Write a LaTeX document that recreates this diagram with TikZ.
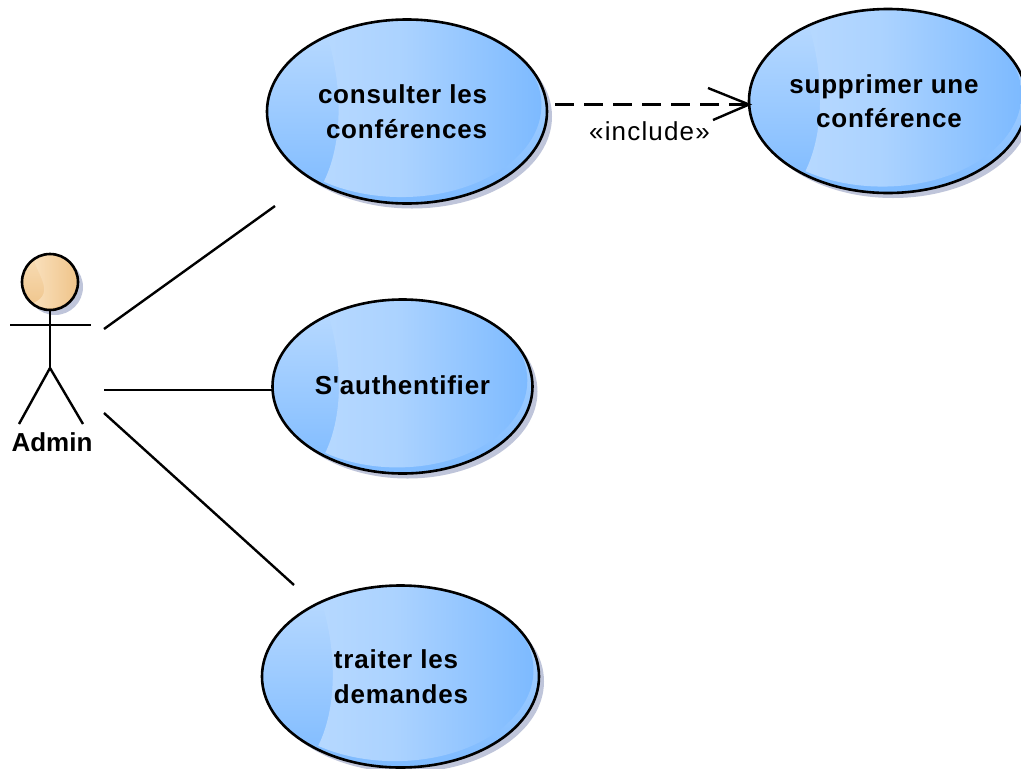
\documentclass[tikz,border=0pt]{standalone}
\usepackage{fontspec}
\setmainfont{Liberation Sans}[Ligatures=TeXOff]
\definecolor{shadowc}{HTML}{BFC5DA}
\definecolor{lightblue}{HTML}{BFDDFF}
\definecolor{midblue}{HTML}{7DBAFF}
\definecolor{topblue}{HTML}{BBDBFF}
\definecolor{headlight}{HTML}{FCE8CA}
\definecolor{headdark}{HTML}{EFC48A}
\definecolor{headtop}{HTML}{F8DDB6}
\tikzset{
  ucshape/.style={ellipse,draw=black,line width=2.6pt,inner sep=0pt},
  uctext/.style={font=\fontsize{26}{34.5}\selectfont\bfseries\addfontfeatures{LetterSpace=3},inner sep=0pt},
  wire/.style={line width=2.4pt,draw=black},
  figure/.style={line width=2.4pt,draw=black},
}
\usetikzlibrary{shapes.geometric}
% #1 name, #2 cx, #3 cy, #4 rx, #5 ry
\newcommand{\usecaseshape}[5]{
  \fill[shadowc] (#2+5,#3+5) ellipse [x radius=#4,y radius=#5];
  \begin{scope}
    \clip (#2,#3) ellipse [x radius=#4,y radius=#5];
    \shade[top color=topblue,bottom color=midblue] (#2,#3) ellipse [x radius=#4,y radius=#5];
    \begin{scope}[shift={(#2,#3)},xscale=#4,yscale=#5]
      \clip (-0.56,-1.1) -- (-0.56,-0.77) .. controls (-0.47,-0.3) and (-0.45,0.3) .. (-0.59,0.75)
        -- (-0.7,1.1) -- (1.1,1.1) -- (1.1,-1.1) -- cycle;
      \shade[left color=lightblue,right color=midblue,middle color=lightblue!70!midblue] (-0.04,-0.07) circle [radius=1];
    \end{scope}
  \end{scope}
  \node[ucshape,minimum width=#4*2pt,minimum height=#5*2pt] (#1) at (#2,#3) {};
}
\begin{document}
\begin{tikzpicture}[x=1pt,y=-1pt]
\useasboundingbox (0,0) rectangle (1021,769);

\usecaseshape{consulter}{407}{111.5}{140}{92}
\usecaseshape{supprimer}{888}{101}{139}{92}
\usecaseshape{auth}{402.5}{386.5}{130}{87}
\usecaseshape{traiter}{400.5}{676.5}{138.5}{91}

\node[uctext,align=right] (consulterT) at (402.5,111.5) {consulter les\\conférences};
\node[uctext,align=center] (supprimerT) at (884,101) {supprimer une\\\hspace*{10pt}conférence};
\node[uctext] (authT) at (402.5,385) {S'authentifier};
\node[uctext,align=left] (traiterT) at (401,676.5) {traiter les\\demandes};

% actor
\coordinate (headc) at (50,282);
\fill[shadowc] (55,287) circle [radius=28];
\begin{scope}
  \clip (headc) circle [radius=28];
  \shade[top color=headtop,bottom color=headdark] (headc) circle [radius=28];
  \begin{scope}[shift={(headc)},scale=28]
    \clip (-0.56,-1.1) -- (-0.56,-0.77) .. controls (-0.47,-0.3) and (0.2,0.4) .. (-0.59,0.75)
      -- (-0.7,1.1) -- (1.1,1.1) -- (1.1,-1.1) -- cycle;
    \shade[left color=headlight,right color=headdark] (-0.04,-0.07) circle [radius=1];
  \end{scope}
\end{scope}
\node[circle,draw=black,line width=2.6pt,minimum size=56pt,inner sep=0pt] (head) at (headc) {};
\coordinate (armL) at (10,325);
\coordinate (armR) at (91,325);
\coordinate (hip) at (50,368);
\coordinate (footL) at (19,424);
\coordinate (footR) at (83,424);
\draw[figure] (head.south) -- (hip);
\draw[figure] (armL) -- (armR);
\draw[figure] (footL) -- (hip) -- (footR);
\node[font=\fontsize{26}{30}\selectfont\bfseries,inner sep=0pt] (admin) at (52,442) {Admin};

% associations
\coordinate (a1) at (104,329);
\coordinate (b1) at (275,206);
\coordinate (a2) at (104,390);
\coordinate (b2) at (273,390);
\coordinate (a3) at (104,413);
\coordinate (b3) at (294,585);
\draw[wire] (a1) -- (b1);
\draw[wire] (a2) -- (b2);
\draw[wire] (a3) -- (b3);

% include
\coordinate (incS) at (555,104.5);
\coordinate (incE) at (749,104.5);
\coordinate (barbA) at (708,88);
\coordinate (barbB) at (713,120);
\draw[wire,dash pattern=on 19pt off 10pt] (incS) -- (incE);
\draw[wire] (barbA) -- (incE) -- (barbB);
\node[font=\fontsize{26}{30}\selectfont\addfontfeatures{LetterSpace=4.5},inner sep=0pt] (incl) at (649.5,131) {«include»};
\end{tikzpicture}
\end{document}
